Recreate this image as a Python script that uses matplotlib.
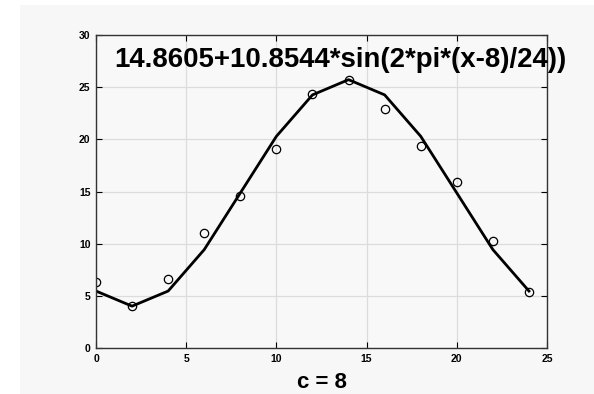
import matplotlib
matplotlib.use("Agg")
import matplotlib.pyplot as plt
from matplotlib.patches import Rectangle

# measured points
x_data = [0, 2, 4, 6, 8, 10, 12, 14, 16, 18, 20, 22, 24]
y_data = [6.3, 4.0, 6.6, 11.0, 14.6, 19.1, 24.3, 25.7, 22.9, 19.4, 15.9, 10.3, 5.4]

# fitted curve at the same x
x_fit = [0, 2, 4, 6, 8, 10, 12, 14, 16, 18, 20, 22, 24]
y_fit = [5.46, 4.01, 5.46, 9.43, 14.86, 20.29, 24.26, 25.72, 24.26, 20.29, 14.86, 9.43, 5.46]

fit_label = "14.8605+10.8544*sin(2*pi*(x-8)/24))"
x_label = "c = 8"

plt.rcParams['font.family'] = ['Liberation Sans', 'DejaVu Sans']

fig = plt.figure(figsize=(5.94, 3.94), dpi=100, facecolor='white')
fig.patches.append(Rectangle((20/594, 0), 1, 1 - 5/394, transform=fig.transFigure,
                             facecolor='#f7f7f7', edgecolor='none', zorder=-1))
ax = fig.add_axes([96/594, 1 - 348/394, 451/594, 313/394])
ax.set_facecolor('#f8f8f8')

ax.plot(x_fit, y_fit, color='black', lw=2)
ax.plot(x_data, y_data, 'o', mfc='none', mec='black', ms=6, mew=0.9)

ax.set_xlim(0, 25)
ax.set_ylim(0, 30)
ax.set_xticks([0, 5, 10, 15, 20, 25])
ax.set_yticks([0, 5, 10, 15, 20, 25, 30])
ax.grid(True, color='#dcdcdc', lw=0.9)
ax.set_axisbelow(True)
ax.tick_params(direction='in', top=True, right=True, length=4, labelsize=7.5, width=0.8, pad=4)
for lbl in ax.get_xticklabels() + ax.get_yticklabels():
    lbl.set_fontweight('bold')
for s in ax.spines.values():
    s.set_color('#333333')
    s.set_linewidth(1)

ax.text(1.0, 27.6, fit_label, fontsize=19.9, fontweight='bold', ha='left', va='center')
ax.set_xlabel(x_label, fontsize=16, fontweight='bold', labelpad=6)

fig.savefig('out.png', dpi=100)
